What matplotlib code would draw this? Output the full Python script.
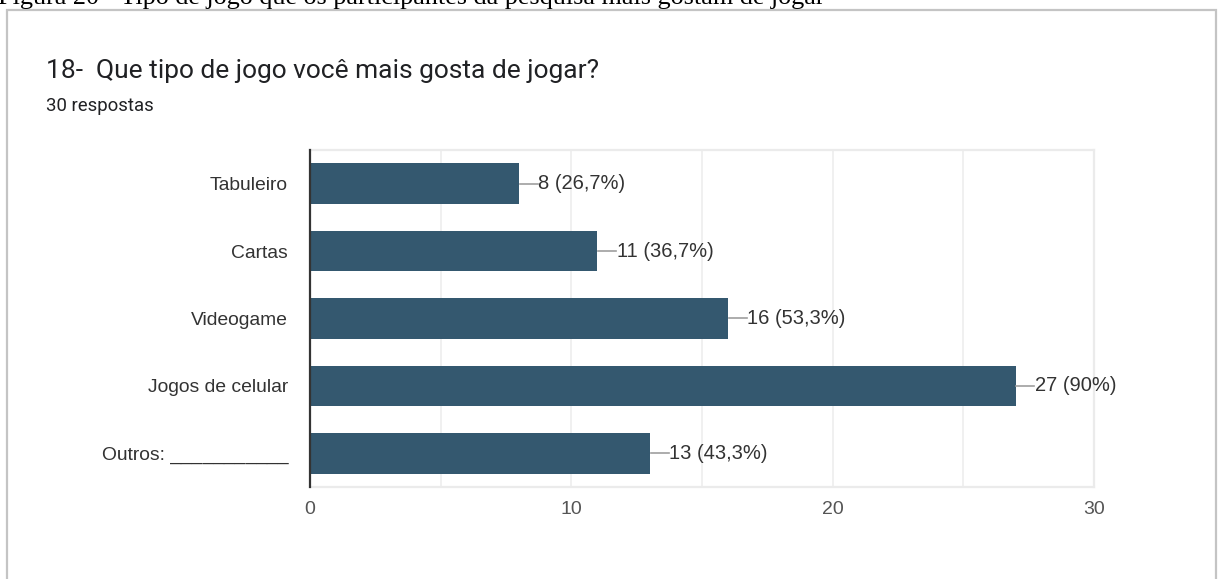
import matplotlib.pyplot as plt

# respostas da pergunta 18
categorias = ['Tabuleiro', 'Cartas', 'Videogame', 'Jogos de celular', 'Outros: ___________']
respostas = [8, 11, 16, 27, 13]
total = 30
xticks = [0, 10, 20, 30]

W, H = 1218, 579
fig = plt.figure(figsize=(W / 100, H / 100), dpi=100)
fig.patch.set_facecolor('white')

# legenda da figura (cortada no topo)
fig.text(-2 / W, 1 - 4 / H, 'Figura 20 - Tipo de jogo que os participantes da pesquisa mais gostam de jogar',
         family='Liberation Serif', fontsize=18.8, color='black', va='baseline', ha='left')

# moldura do formulário
frame = plt.Rectangle((7 / W, -0.1), (1216 - 7) / W, 1.1 - 10 / H, transform=fig.transFigure,
                      fill=False, edgecolor='#c4c4c4', linewidth=1.6)
fig.add_artist(frame)

fig.text(46 / W, 1 - 78 / H, '18-  Que tipo de jogo você mais gosta de jogar?',
         family='Roboto', fontsize=19, color='#202124', va='baseline')
fig.text(46 / W, 1 - 106 / H, '30 respostas',
         family='Roboto', fontsize=13.4, color='#202124', va='center')

# área do gráfico
x0, x1, y0, y1 = 310, 1094, 150, 487
ax = fig.add_axes([x0 / W, 1 - y1 / H, (x1 - x0) / W, (y1 - y0) / H])

pos = range(len(categorias))
ax.barh(pos, respostas, height=0.6, color='#34586f', zorder=3)

for i, v in enumerate(respostas):
    pct = round(v / total * 100, 1)
    pct_txt = (f'{pct:.1f}'.rstrip('0').rstrip('.')).replace('.', ',')
    ax.plot([v + 0.03, v + 0.72], [i, i], color='#9e9e9e', linewidth=1.2, zorder=4, clip_on=False)
    ax.text(v + 0.74, i, f'{v} ({pct_txt}%)', va='center', ha='left',
            family='Liberation Sans', fontsize=14.5, color='#333333', zorder=5)

ax.set_xlim(0, 30)
ax.set_ylim(len(categorias) - 0.5, -0.5)
ax.set_yticks(list(pos))
ax.set_yticklabels(categorias, family='Liberation Sans', fontsize=13.9, color='#333333')
ax.set_xticks(xticks)
ax.set_xticklabels([str(t) for t in xticks], family='Liberation Sans', fontsize=14, color='#555555')
ax.set_xticks([5, 15, 25], minor=True)
ax.tick_params(axis='both', which='both', length=0)
ax.tick_params(axis='y', pad=15.8)
ax.tick_params(axis='x', pad=10)

ax.grid(axis='x', which='both', color='#eeeeee', linewidth=1.2, zorder=0)
ax.grid(axis='y', visible=False)

for s in ['top', 'right', 'bottom']:
    ax.spines[s].set_color('#ebebeb')
    ax.spines[s].set_linewidth(1.6)
ax.spines['left'].set_color('#333333')
ax.spines['left'].set_linewidth(1.6)
ax.spines['left'].set_zorder(6)

fig.savefig('out.png', dpi=100, facecolor='white')
